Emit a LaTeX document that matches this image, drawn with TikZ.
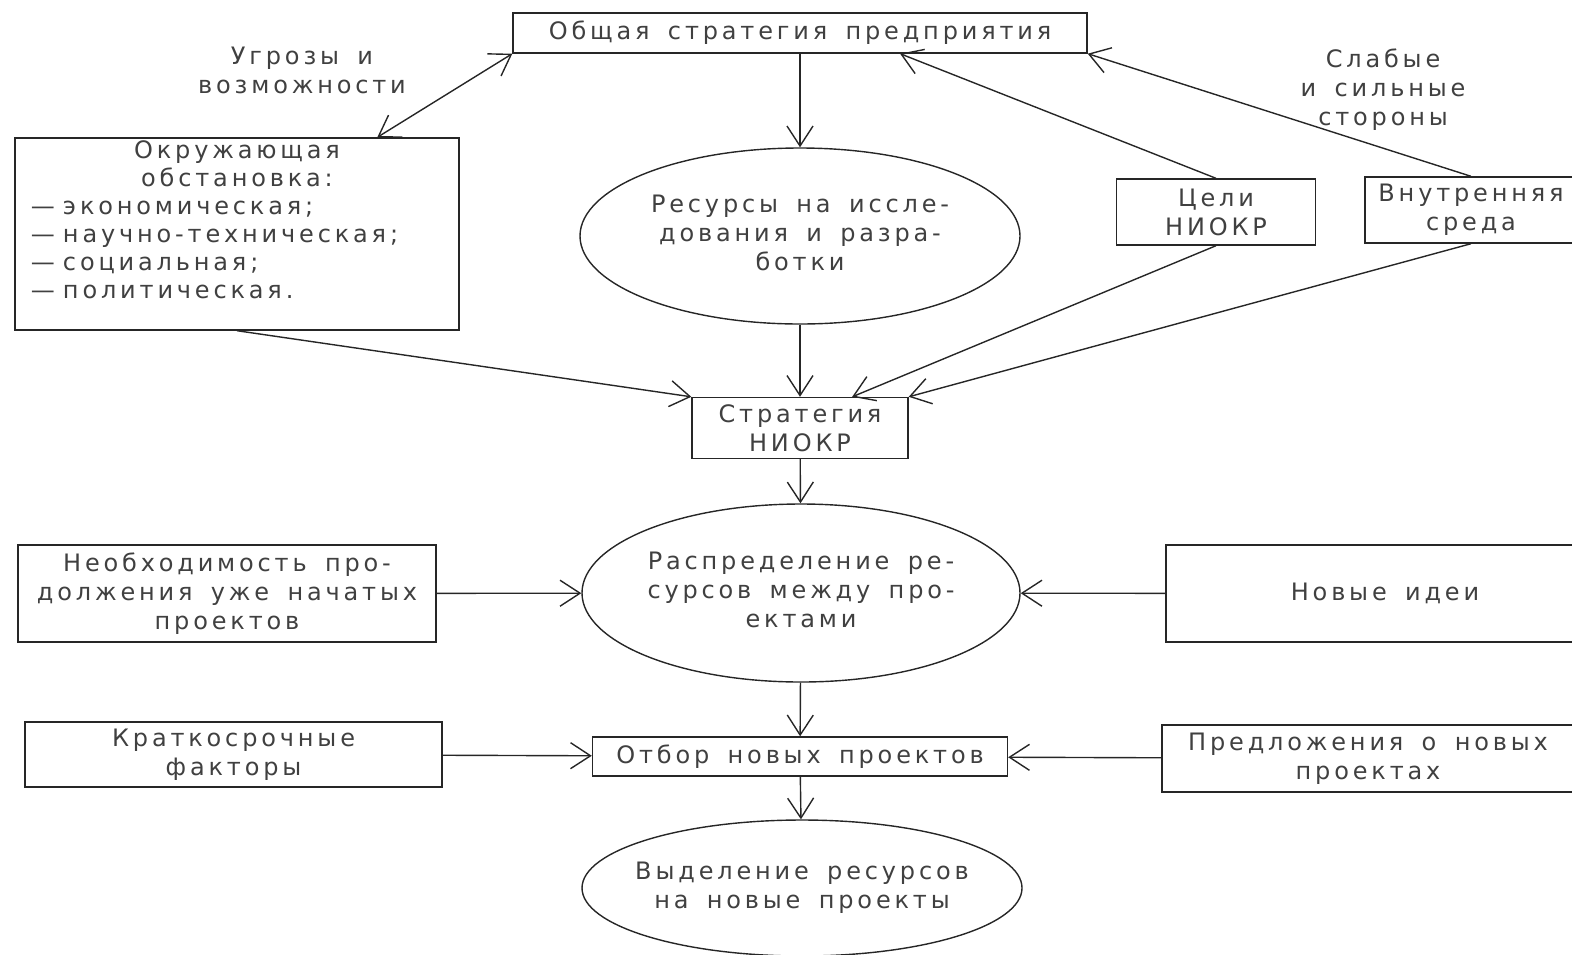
\documentclass[tikz,border=0pt]{standalone}
\usepackage{fontspec}
\setmainfont{DejaVu Sans}[LetterSpace=16, WordSpace=1.6]
\usetikzlibrary{arrows.meta,shapes.geometric,calc}

% text of an oval, set narrower than it is so the ellipse keeps its size
\newcommand{\otext}[1]{\makebox[120pt]{\begin{tabular}{@{}c@{}}#1\end{tabular}}}

\begin{document}
\begin{tikzpicture}[x=0.5pt, y=-0.5pt, line width=0.7pt, color=black!85,
    font=\fontsize{12}{14.5}\selectfont,
    >={Straight Barb[length=10pt,width=13pt]},
    box/.style={draw, rectangle, inner sep=2pt, align=center, text=black!75},
    oval/.style={draw, ellipse, inner sep=0pt, text=black!75},
    note/.style={align=center, text=black!75}]
    \useasboundingbox (0, 0) rectangle (1572, 954);
    \node[box, minimum width=287pt, minimum height=20pt] (top) at (800, 33) {Общая стратегия предприятия};
    \node[note] (threats) at (302, 70) {Угрозы и\\возможности};
    \node[note] (weak) at (1383, 90) {Слабые\\и сильные\\стороны};
    \node[box, inner xsep=5pt, inner ysep=1pt, text width=212pt, align=left, minimum height=96pt,
        font=\fontsize{12}{14}\selectfont] (okr) at (237, 234)
        {\makebox[212pt]{Окружающая}\\ \makebox[212pt]{обстановка:}\\ \hspace*{3pt}— экономическая;\\
         \hspace*{3pt}— научно-техническая;\\ \hspace*{3pt}— социальная;\\ \hspace*{3pt}— политическая.\\ \mbox{}};
    \node[oval, minimum width=220pt, minimum height=88pt] (res) at (800, 236)
        {\otext{Ресурсы на иссле-\\дования и разра-\\ботки}};
    \node[box, minimum width=99.5pt, minimum height=33pt] (goals) at (1216, 212) {Цели\\НИОКР};
    \node[box, minimum width=106pt, minimum height=33pt] (inner) at (1471, 210) {Внутренняя\\среда};
    \node[box, minimum width=108pt, minimum height=30.5pt] (strat) at (800, 428) {Стратегия\\НИОКР};
    \node[oval, minimum width=219pt, minimum height=89pt] (distr) at (801, 593)
        {\otext{Распределение ре-\\сурсов между про-\\ектами}};
    \node[box, minimum width=209pt, minimum height=48.5pt] (cont) at (227, 593.5)
        {Необходимость про-\\должения уже начатых\\проектов};
    \node[box, minimum width=219pt, minimum height=48.5pt] (ideas) at (1385, 593.5) {Новые идеи};
    \node[box, minimum width=208.5pt, minimum height=32.5pt] (short) at (233.5, 754.5) {Краткосрочные\\факторы};
    \node[box, minimum width=207.5pt, minimum height=19.5pt] (select) at (800, 756.5) {Отбор новых проектов};
    \node[box, minimum width=206pt, minimum height=33.5pt] (offers) at (1368, 758.5) {Предложения о новых\\проектах};
    \node[oval, minimum width=220pt, minimum height=68pt] (alloc) at (802, 888)
        {\otext{Выделение ресурсов\\на новые проекты}};
    \draw[<->] (top.south west) -- ($(okr.north west)!0.815!(okr.north east)$);
    \draw[->] (top) -- (res);
    \draw[->] (goals.north) -- ($(top.south west)!0.674!(top.south east)$);
    \draw[->] (inner.north) -- (top.south east);
    \draw[->] (okr.south) -- (strat.north west);
    \draw[->] (res) -- (strat);
    \draw[->] (goals.south) -- ($(strat.north west)!0.74!(strat.north east)$);
    \draw[->] (inner.south) -- (strat.north east);
    \draw[->] (strat) -- (distr);
    \draw[->] (cont) -- (distr);
    \draw[->] (ideas) -- (distr);
    \draw[->] (distr) -- (select);
    \draw[->] (short) -- (select);
    \draw[->] (offers) -- (select);
    \draw[->] (select) -- (alloc);
\end{tikzpicture}
\end{document}
